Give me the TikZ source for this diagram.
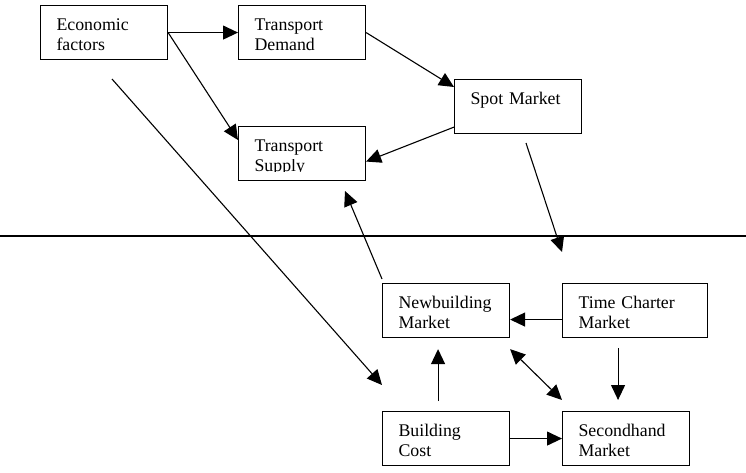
\documentclass[tikz,border=0pt]{standalone}
\usepackage{fontspec}
\setmainfont{Liberation Serif}
\usepackage{adjustbox}
\usepackage{tikz}
\usetikzlibrary{arrows.meta,positioning}

\begin{document}
\begin{tikzpicture}[x=1pt,y=-1pt,
    box/.style={draw, line width=1.1pt, anchor=north west, align=left,
      inner xsep=16pt, inner ysep=0pt, text width=95pt,
      text height=25pt, text depth=29pt,
      font=\fontsize{17.8}{20}\selectfont},
    wide/.style={text width=113pt},
    link/.style={line width=1.1pt, -{Triangle[length=15pt,width=14pt]}},
    both/.style={line width=1.1pt, {Triangle[length=15pt,width=14pt]}-{Triangle[length=15pt,width=14pt]}}]
  \useasboundingbox (0,0) rectangle (746,472);

  % upper half
  \node[box] (econ) at (40,5) {Economic\\factors};
  \node[box] (demand) at (238,5) {Transport\\Demand};
  \node[box] (supply) at (238,126) {Transport\\\clipbox{{0pt} {\depth} {0pt} {0pt}}{Supply}};
  \node[box] (spot) at (454,79) {Spot Market};

  % lower half
  \node[box] (newbuild) at (382,283) {Newbuilding\\Market};
  \node[box, wide] (charter) at (562,283) {Time Charter\\Market};
  \node[box] (cost) at (382,411) {Building\\Cost};
  \node[box] (secondhand) at (562,411) {Secondhand\\Market};

  \coordinate (divleft) at (0,236);
  \coordinate (divright) at (746,236);
  \draw[line width=1.1pt] (divleft) -- (divright);

  \coordinate (econout) at (112,79);
  \coordinate (costin) at (382,385);
  \coordinate (spotout) at (526,143);
  \coordinate (charterin) at (562,252);
  \coordinate (supplyin) at (345,191);

  \draw[link] (econ.east) -- (demand.west);
  \draw[link] (econ.east) -- ([yshift=-14pt]supply.north west);
  \draw[link] (demand.east) -- ([yshift=-8pt]spot.north west);
  \draw[link] ([yshift=7pt]spot.south west) -- ([yshift=-8pt]supply.east);
  \draw[link] ([yshift=4pt]newbuild.north west) -- (supplyin);
  \draw[link] (spotout) -- (charterin);
  \draw[link] (econout) -- (costin);
  \draw[link] ([yshift=-9pt]charter.west) -- ([yshift=-9pt]newbuild.east);
  \draw[link] ([shift={(-8pt,10pt)}]cost.north) -- ([shift={(-8pt,-11pt)}]newbuild.south);
  \draw[both] ([yshift=-11pt]newbuild.south east) -- ([yshift=11pt]secondhand.north west);
  \draw[link] ([shift={(-17pt,-10pt)}]charter.south) -- ([shift={(-8pt,11pt)}]secondhand.north);
  \draw[link] (cost.east) -- (secondhand.west);
\end{tikzpicture}
\end{document}
